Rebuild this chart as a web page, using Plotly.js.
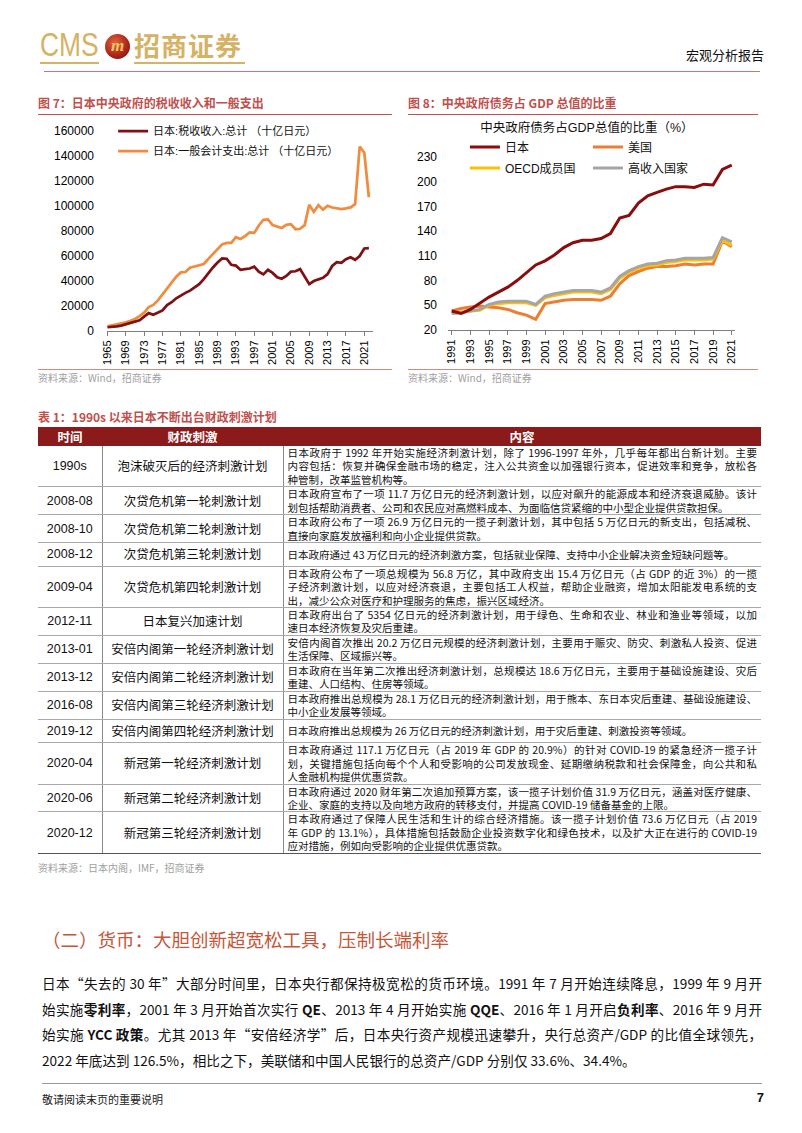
<!DOCTYPE html>
<html><head><meta charset="utf-8">
<script src="https://cdn.plot.ly/plotly-3.0.1.min.js"></script>
<style>
html,body{margin:0;padding:0;background:#fff;}
#page{position:relative;width:802px;height:1133px;background:#fff;font-family:"Noto Sans CJK SC",sans-serif;overflow:hidden;}
.abs{position:absolute;}
.figtitle{position:absolute;color:#c0504d;font-size:12px;font-weight:bold;line-height:16px;white-space:nowrap;}
.rule{position:absolute;height:0;border-top:1px solid #c0504d;}
.src{position:absolute;color:#a0a0a0;font-size:10px;line-height:14px;white-space:nowrap;}
table.fis{position:absolute;left:38px;top:427px;width:723px;border-collapse:collapse;table-layout:fixed;}
table.fis th{background:#8b1a1a;color:#fff;font-size:12.5px;font-weight:bold;height:19px;padding:0;line-height:19px;}
table.fis td{border-bottom:1px solid #a8a8a8;height:22.5px;padding:0 4px;vertical-align:middle;color:#111;}
table.fis td.c1{font-family:"Liberation Sans",sans-serif;font-size:12.5px;text-align:center;line-height:14px;}
table.fis td.c2{font-size:12.5px;text-align:center;border-left:1px solid #8a8a8a;line-height:14px;}
table.fis td.c3{font-size:10.5px;line-height:13.45px;border-left:1px solid #8a8a8a;}
table.fis tr:last-child td{border-bottom:1px solid #555;}
.ln{display:block;text-align:justify;text-align-last:justify;}
.ln.last{text-align:left;text-align-last:left;}
.body{position:absolute;left:42px;width:720px;font-size:13.6px;line-height:18px;color:#111;}
.body .j{text-align:justify;text-align-last:justify;}
</style>
</head><body>
<div id="page">
  <!-- header -->
  <div class="abs" style="left:40px;top:27px;color:#d4b266;font-family:'Liberation Sans',sans-serif;font-size:33px;line-height:36px;transform:scaleX(0.8);transform-origin:left top;">CMS</div>
  <div class="abs" style="left:105px;top:34px;width:25px;height:25px;border-radius:50%;background:radial-gradient(circle at 40% 35%,#e2643c,#a8231a 60%,#6a1010);"></div>
  <div class="abs" style="left:105px;top:34px;width:25px;height:25px;line-height:24px;text-align:center;color:#f0c860;font-family:'Liberation Serif',serif;font-style:italic;font-weight:bold;font-size:17px;">m</div>
  <div class="abs" style="left:134px;top:28px;color:#d4b266;font-size:26px;font-weight:bold;line-height:34px;letter-spacing:1px;">招商证券</div>
  <div class="abs" style="left:40px;top:62px;width:59px;border-top:2px solid #d4b266;"></div>
  <div class="abs" style="left:134px;top:62px;width:111px;border-top:2px solid #d4b266;"></div>
  <div class="abs" style="left:686px;top:46px;font-size:13px;line-height:18px;color:#111;white-space:nowrap;">宏观分析报告</div>
  <div class="rule" style="left:44px;top:71px;width:716px;border-top-color:#c8786e;"></div>

  <!-- figure titles -->
  <div class="figtitle" style="left:38px;top:95px;">图 7：日本中央政府的税收收入和一般支出</div>
  <div class="rule" style="left:38px;top:114px;width:354px;"></div>
  <div class="figtitle" style="left:408px;top:95px;">图 8：中央政府债务占 GDP 总值的比重</div>
  <div class="rule" style="left:408px;top:114px;width:350px;"></div>

  <div id="chart7" class="abs" style="left:30px;top:118px;width:370px;height:255px;"></div>
  <div id="chart8" class="abs" style="left:400px;top:118px;width:400px;height:255px;"></div>

  <div class="rule" style="left:38px;top:369px;width:354px;border-top-color:#d08a80;"></div>
  <div class="src" style="left:38px;top:371px;">资料来源：Wind，招商证券</div>
  <div class="rule" style="left:408px;top:369px;width:350px;border-top-color:#d08a80;"></div>
  <div class="src" style="left:408px;top:371px;">资料来源：Wind，招商证券</div>

  <!-- table -->
  <div class="figtitle" style="left:38px;top:409px;">表 1：1990s 以来日本不断出台财政刺激计划</div>
  <table class="fis" id="fisTable"></table>
  <div class="src" id="tblSrc" style="left:38px;top:862px;">资料来源：日本内阁，IMF，招商证券</div>

  <!-- section -->
  <div class="abs" style="left:42px;top:926px;font-size:18.5px;line-height:26px;color:#c4573a;white-space:nowrap;">（二）货币：大胆创新超宽松工具，压制长端利率</div>
  <div class="body" style="top:974px;">
    <div class="j" style="height:25.5px;">日本“失去的 30 年”大部分时间里，日本央行都保持极宽松的货币环境。1991 年 7 月开始连续降息，1999 年 9 月开</div>
    <div class="j" style="height:25.5px;">始实施<b>零利率</b>，2001 年 3 月开始首次实行 <b>QE</b>、2013 年 4 月开始实施 <b>QQE</b>、2016 年 1 月开启<b>负利率</b>、2016 年 9 月开</div>
    <div class="j" style="height:25.5px;">始实施 <b>YCC 政策</b>。尤其 2013 年“安倍经济学”后，日本央行资产规模迅速攀升，央行总资产/GDP 的比值全球领先，</div>
    <div style="height:25.5px;">2022 年底达到 126.5%，相比之下，美联储和中国人民银行的总资产/GDP 分别仅 33.6%、34.4%。</div>
  </div>
  <div class="abs" style="left:42px;top:1083px;width:720px;border-top:1px solid #9a9a9a;"></div>
  <div class="abs" style="left:42px;top:1091px;font-size:11px;line-height:16px;color:#222;">敬请阅读末页的重要说明</div>
  <div class="abs" style="left:752px;top:1090px;width:12px;text-align:right;font-family:'Liberation Sans',sans-serif;font-weight:bold;font-size:13px;line-height:16px;color:#111;">7</div>
</div>

<script>
// ===== Figure 7 data (十亿日元) =====
const years7 = [1965,1966,1967,1968,1969,1970,1971,1972,1973,1974,
  1975,1976,1977,1978,1979,1980,1981,1982,1983,1984,
  1985,1986,1987,1988,1989,1990,1991,1992,1993,1994,
  1995,1996,1997,1998,1999,2000,2001,2002,2003,2004,
  2005,2006,2007,2008,2009,2010,2011,2012,2013,2014,
  2015,2016,2017,2018,2019,2020,2021,2022];
const taxRevenue = [3000,3200,3700,4300,5200,6100,7000,8500,11500,14300,
  13000,14800,16500,20800,23000,26200,28500,30500,32300,34900,
  37500,41500,46500,50800,54800,58000,57800,53000,52300,49000,
  49500,50000,51500,47500,45300,49000,46500,43000,41800,44000,
  47500,47800,49500,44000,37500,40000,41500,42500,45500,52000,
  55000,54500,57500,59000,57000,60000,66000,66300];
const generalExpenditure = [3700,4500,5200,5900,6900,8200,9600,11900,14700,19100,
  20900,24500,29100,34100,38800,43400,46900,47200,50600,51500,
  53000,53600,57700,61500,65900,69300,70500,70500,75100,73600,
  75900,78800,78500,84400,89000,89300,84800,83700,82400,84900,
  85500,81400,81800,84700,101000,95300,100700,97100,100200,98800,
  98200,97500,98100,98900,101400,147600,142600,107000];
const ticks7 = [1965,1969,1973,1977,1981,1985,1989,1993,1997,2001,2005,2009,2013,2017,2021];
const name7a = '日本:税收收入:总计 （十亿日元）';
const name7b = '日本:一般会计支出:总计 （十亿日元）';

// ===== Figure 8 data (% of GDP) =====
const years8 = [1991,1992,1993,1994,1995,1996,1997,1998,1999,2000,
  2001,2002,2003,2004,2005,2006,2007,2008,2009,2010,
  2011,2012,2013,2014,2015,2016,2017,2018,2019,2020,2021];
const japanDebt = [43,40,45,53,60,66,72,80,90,99,
  104,111,120,126,129,129,131,137,156,159,
  174,183,187,191,194,194,193,197,196,215,220];
const usDebt = [43,46,48,49,48,47,45,41,38,33,
  52,54,56,57,57,57,56,61,76,86,
  91,95,97,97,98,100,99,100,100,128,121];
const oecdDebt = [41,42,43,44,50,52,53,53,53,50,
  59,62,64,66,66,66,64,69,83,90,
  95,98,99,102,103,105,105,105,106,129,123];
const highIncomeDebt = [40,41,43,45,51,54,55,55,55,51,
  61,64,66,68,68,68,66,71,85,92,
  97,100,101,104,105,107,107,107,108,132,127];
const ticks8 = [1991,1993,1995,1997,1999,2001,2003,2005,2007,2009,2011,2013,2015,2017,2019,2021];
const yticks8 = [20,50,80,110,140,170,200,230];
const title8 = '中央政府债务占GDP总值的比重（%）';
const names8 = ['日本','美国','OECD成员国','高收入国家'];

// ===== Table 1 data =====
const periods = ['1990s','2008-08','2008-10','2008-12','2009-04','2012-11','2013-01','2013-12','2016-08','2019-12','2020-04','2020-06','2020-12'];
const programs = ['泡沫破灭后的经济刺激计划','次贷危机第一轮刺激计划','次贷危机第二轮刺激计划','次贷危机第三轮刺激计划','次贷危机第四轮刺激计划','日本复兴加速计划','安倍内阁第一轮经济刺激计划','安倍内阁第二轮经济刺激计划','安倍内阁第三轮经济刺激计划','安倍内阁第四轮经济刺激计划','新冠第一轮经济刺激计划','新冠第二轮经济刺激计划','新冠第三轮经济刺激计划'];
const contents = [
  ['日本政府于 1992 年开始实施经济刺激计划，除了 1996-1997 年外，几乎每年都出台新计划。主要','内容包括：恢复并确保金融市场的稳定，注入公共资金以加强银行资本，促进效率和竞争，放松各','种管制，改革监管机构等。'],
  ['日本政府宣布了一项 11.7 万亿日元的经济刺激计划，以应对飙升的能源成本和经济衰退威胁。该计','划包括帮助消费者、公司和农民应对高燃料成本、为面临信贷紧缩的中小型企业提供贷款担保。'],
  ['日本政府公布了一项 26.9 万亿日元的一揽子刺激计划，其中包括 5 万亿日元的新支出，包括减税、','直接向家庭发放福利和向小企业提供贷款。'],
  ['日本政府通过 43 万亿日元的经济刺激方案，包括就业保障、支持中小企业解决资金短缺问题等。'],
  ['日本政府公布了一项总规模为 56.8 万亿，其中政府支出 15.4 万亿日元（占 GDP 的近 3%）的一揽','子经济刺激计划，以应对经济衰退，主要包括工人权益，帮助企业融资，增加太阳能发电系统的支','出，减少公众对医疗和护理服务的焦虑，振兴区域经济。'],
  ['日本政府出台了 5354 亿日元的经济刺激计划，用于绿色、生命和农业、林业和渔业等领域，以加','速日本经济恢复及灾后重建。'],
  ['安倍内阁首次推出 20.2 万亿日元规模的经济刺激计划，主要用于赈灾、防灾、刺激私人投资、促进','生活保障、区域振兴等。'],
  ['日本政府在当年第二次推出经济刺激计划，总规模达 18.6 万亿日元，主要用于基础设施建设、灾后','重建、人口结构、住房等领域。'],
  ['日本政府推出总规模为 28.1 万亿日元的经济刺激计划，用于熊本、东日本灾后重建、基础设施建设、','中小企业发展等领域。'],
  ['日本政府推出总规模为 26 万亿日元的经济刺激计划，用于灾后重建、刺激投资等领域。'],
  ['日本政府通过 117.1 万亿日元（占 2019 年 GDP 的 20.9%）的针对 COVID-19 的紧急经济一揽子计','划，关键措施包括向每个个人和受影响的公司发放现金、延期缴纳税款和社会保障金，向公共和私','人金融机构提供优惠贷款。'],
  ['日本政府通过 2020 财年第二次追加预算方案，该一揽子计划价值 31.9 万亿日元，涵盖对医疗健康、','企业、家庭的支持以及向地方政府的转移支付，并提高 COVID-19 储备基金的上限。'],
  ['日本政府通过了保障人民生活和生计的综合经济措施。该一揽子计划价值 73.6 万亿日元（占 2019','年 GDP 的 13.1%），具体措施包括鼓励企业投资数字化和绿色技术，以及扩大正在进行的 COVID-19','应对措施，例如向受影响的企业提供优惠贷款。']
];
const tableHeaders = ['时间','财政刺激','内容'];

// build table
(function(){
  const t = document.getElementById('fisTable');
  let html = '<colgroup><col style="width:64px"><col style="width:181px"><col style="width:478px"></colgroup>';
  html += '<tr>' + tableHeaders.map(h => '<th>' + h + '</th>').join('') + '</tr>';
  periods.forEach((p, i) => {
    const lines = contents[i];
    const c3 = lines.map((l, k) => '<span class="ln' + (k === lines.length - 1 ? ' last' : '') + '">' + l + '</span>').join('');
    html += '<tr><td class="c1">' + p + '</td><td class="c2">' + programs[i] + '</td><td class="c3">' + c3 + '</td></tr>';
  });
  t.innerHTML = html;
  // keep each content line on a single line: tighten letter spacing if it wraps
  t.querySelectorAll('.ln').forEach(el => {
    let ls = 0;
    while (el.getBoundingClientRect().height > 16 && ls > -1.5) {
      ls -= 0.05;
      el.style.letterSpacing = ls.toFixed(2) + 'px';
    }
  });
  const r = t.getBoundingClientRect();
  const pg = document.getElementById('page').getBoundingClientRect();
  document.getElementById('tblSrc').style.top = (r.bottom - pg.top + 7) + 'px';
})();

const FONT = '"Liberation Sans", "Noto Sans CJK SC", sans-serif';
const cfg = {staticPlot: true, displayModeBar: false};

// ===== Chart 7 =====
Plotly.newPlot('chart7', [
  {x: years7, y: generalExpenditure, name: name7b, type: 'scatter', mode: 'lines',
   line: {color: '#f08c3f', width: 2.75}, legend: 'legend2'},
  {x: years7, y: taxRevenue, name: name7a, type: 'scatter', mode: 'lines',
   line: {color: '#7f1013', width: 2.75}, legend: 'legend'}
], {
  width: 370, height: 255,
  margin: {l: 77, r: 27, t: 13, b: 42, autoexpand: false},
  paper_bgcolor: 'rgba(0,0,0,0)', plot_bgcolor: 'rgba(0,0,0,0)',
  font: {family: FONT, color: '#000', size: 12},
  showlegend: true,
  legend: {x: 0.023, y: 1.0, xanchor: 'left', yanchor: 'middle', bgcolor: 'rgba(0,0,0,0)',
           font: {size: 11, color: '#111'}, itemwidth: 30},
  legend2: {x: 0.023, y: 0.9, xanchor: 'left', yanchor: 'middle', bgcolor: 'rgba(0,0,0,0)',
            font: {size: 11, color: '#111'}, itemwidth: 30},
  xaxis: {range: [1964.9, 2022.9], tickmode: 'array', tickvals: ticks7, tickangle: -90,
          tickfont: {size: 11}, showline: true, linecolor: '#7f7f7f', linewidth: 1,
          ticks: 'outside', ticklen: 4, tickcolor: '#7f7f7f', showgrid: false, zeroline: false},
  yaxis: {range: [0, 160000], dtick: 20000, tickformat: 'd', showgrid: false, zeroline: false,
          showline: false, ticks: '', tickfont: {size: 12}, ticklabelstandoff: 12}
}, cfg);

// ===== Chart 8 =====
const colors8 = ['#8b0c0c', '#ed7d31', '#ffc000', '#a5a5a5'];
const series8 = [japanDebt, usDebt, oecdDebt, highIncomeDebt];
const legendOf8 = ['legend', 'legend', 'legend2', 'legend2'];
const order8 = [1, 2, 3, 0];
Plotly.newPlot('chart8', order8.map(i => ({
  x: years8, y: series8[i], name: names8[i], type: 'scatter', mode: 'lines',
  line: {color: colors8[i], width: 3}, legend: legendOf8[i], legendrank: i
})), {
  width: 400, height: 255,
  margin: {l: 48, r: 65, t: 39, b: 43, autoexpand: false},
  paper_bgcolor: 'rgba(0,0,0,0)', plot_bgcolor: 'rgba(0,0,0,0)',
  font: {family: FONT, color: '#000', size: 12},
  title: {text: title8, font: {size: 12.5, color: '#111'}, x: 0.484, xref: 'paper', xanchor: 'center',
          y: 0.961, yref: 'container', yanchor: 'middle'},
  showlegend: true,
  legend: {orientation: 'h', x: 0.059, y: 1.058, xanchor: 'left', yanchor: 'middle',
           bgcolor: 'rgba(0,0,0,0)', font: {size: 12, color: '#111'}, itemwidth: 30,
           entrywidth: 78, entrywidthmode: 'pixels', traceorder: 'normal'},
  legend2: {orientation: 'h', x: 0.059, y: 0.936, xanchor: 'left', yanchor: 'middle',
            bgcolor: 'rgba(0,0,0,0)', font: {size: 12, color: '#111'}, itemwidth: 30,
            entrywidth: 78, entrywidthmode: 'pixels', traceorder: 'normal'},
  xaxis: {range: [1990.6, 2021.35], tickmode: 'array', tickvals: ticks8, tickangle: -90,
          tickfont: {size: 11}, showline: true, linecolor: '#7f7f7f', linewidth: 1,
          ticks: 'outside', ticklen: 4, tickcolor: '#7f7f7f', showgrid: false, zeroline: false},
  yaxis: {range: [20, 230], tickmode: 'array', tickvals: yticks8, showgrid: false, zeroline: false,
          showline: false, ticks: '', tickfont: {size: 12}, ticklabelstandoff: 10}
}, cfg);
</script>
</body></html>
